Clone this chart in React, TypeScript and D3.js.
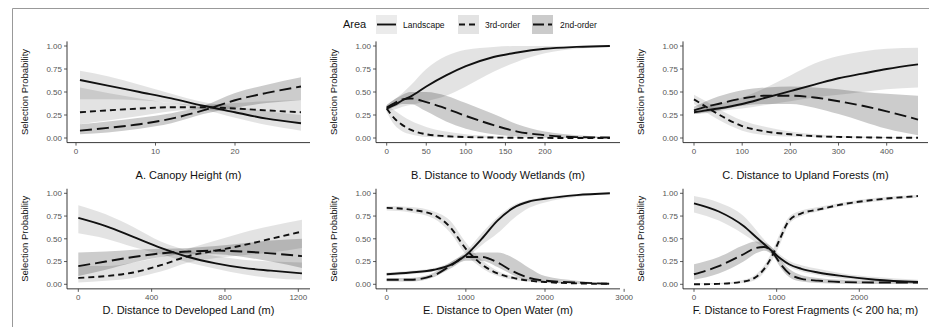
import React from "react";
import * as d3 from "d3";

// ---------- DATA ----------
const seriesNames = ["Landscape", "3rd-order", "2nd-order"];
const yTicks = [0, 0.25, 0.5, 0.75, 1];

// A. Canopy Height
const aX = [0.5, 4, 8, 12, 16, 20, 24, 28.3];
const aLand = [0.63, 0.57, 0.5, 0.43, 0.35, 0.28, 0.21, 0.16];
const aLandLo = [0.42, 0.42, 0.41, 0.38, 0.31, 0.22, 0.14, 0.08];
const aLandHi = [0.73, 0.67, 0.58, 0.48, 0.39, 0.34, 0.29, 0.25];
const a3rd = [0.28, 0.3, 0.32, 0.335, 0.335, 0.32, 0.3, 0.28];
const a3rdLo = [0.15, 0.19, 0.24, 0.29, 0.31, 0.27, 0.21, 0.16];
const a3rdHi = [0.55, 0.49, 0.43, 0.38, 0.36, 0.38, 0.4, 0.41];
const a2nd = [0.08, 0.11, 0.15, 0.21, 0.3, 0.41, 0.49, 0.56];
const a2ndLo = [0.04, 0.06, 0.1, 0.16, 0.26, 0.33, 0.38, 0.41];
const a2ndHi = [0.15, 0.18, 0.22, 0.27, 0.35, 0.49, 0.58, 0.66];
const aTicks = [0, 10, 20];

// B. Distance to Woody Wetlands
const bX = [0, 10, 20, 30, 50, 75, 100, 135, 165, 200, 240, 282];
const bLand = [0.32, 0.36, 0.41, 0.45, 0.56, 0.68, 0.78, 0.88, 0.93, 0.97, 0.99, 1.0];
const bLandLo = [0.29, 0.31, 0.34, 0.36, 0.4, 0.46, 0.56, 0.72, 0.83, 0.92, 0.97, 0.99];
const bLandHi = [0.36, 0.42, 0.49, 0.57, 0.75, 0.89, 0.96, 0.99, 1.0, 1.0, 1.0, 1.0];
const b3rd = [0.32, 0.21, 0.14, 0.09, 0.04, 0.02, 0.01, 0.005, 0.002, 0.001, 0, 0];
const b3rdLo = [0.28, 0.14, 0.07, 0.04, 0.01, 0.005, 0, 0, 0, 0, 0, 0];
const b3rdHi = [0.36, 0.3, 0.24, 0.19, 0.12, 0.07, 0.04, 0.02, 0.01, 0.005, 0.002, 0.001];
const b2nd = [0.33, 0.38, 0.42, 0.43, 0.39, 0.32, 0.24, 0.14, 0.07, 0.03, 0.01, 0.005];
const b2ndLo = [0.3, 0.34, 0.37, 0.37, 0.29, 0.18, 0.1, 0.04, 0.015, 0.005, 0, 0];
const b2ndHi = [0.36, 0.42, 0.47, 0.5, 0.5, 0.46, 0.38, 0.26, 0.15, 0.07, 0.03, 0.01];
const bTicks = [0, 50, 100, 150, 200];

// C. Distance to Upland Forests
const cX = [0, 25, 50, 100, 150, 200, 250, 300, 350, 400, 465];
const cLand = [0.28, 0.3, 0.32, 0.37, 0.44, 0.51, 0.58, 0.65, 0.7, 0.75, 0.8];
const cLandLo = [0.26, 0.27, 0.29, 0.32, 0.36, 0.4, 0.44, 0.47, 0.5, 0.53, 0.55];
const cLandHi = [0.31, 0.34, 0.37, 0.44, 0.55, 0.68, 0.81, 0.89, 0.94, 0.97, 0.98];
const c3rd = [0.42, 0.34, 0.26, 0.13, 0.07, 0.04, 0.02, 0.012, 0.007, 0.004, 0.002];
const c3rdLo = [0.37, 0.28, 0.2, 0.08, 0.03, 0.015, 0.007, 0.003, 0.001, 0, 0];
const c3rdHi = [0.47, 0.4, 0.32, 0.19, 0.12, 0.07, 0.04, 0.025, 0.015, 0.01, 0.006];
const c2nd = [0.3, 0.34, 0.37, 0.43, 0.46, 0.46, 0.44, 0.4, 0.35, 0.29, 0.2];
const c2ndLo = [0.26, 0.28, 0.3, 0.35, 0.37, 0.37, 0.33, 0.26, 0.18, 0.1, 0.03];
const c2ndHi = [0.34, 0.4, 0.45, 0.52, 0.55, 0.56, 0.55, 0.53, 0.5, 0.48, 0.46];
const cTicks = [0, 100, 200, 300, 400];

// D. Distance to Developed Land
const dX = [0, 150, 300, 450, 600, 750, 900, 1050, 1220];
const dLand = [0.73, 0.64, 0.52, 0.4, 0.3, 0.23, 0.18, 0.15, 0.12];
const dLandLo = [0.56, 0.5, 0.41, 0.33, 0.24, 0.17, 0.11, 0.07, 0.05];
const dLandHi = [0.87, 0.77, 0.63, 0.47, 0.37, 0.31, 0.27, 0.25, 0.24];
const d3rd = [0.07, 0.09, 0.13, 0.21, 0.31, 0.37, 0.43, 0.5, 0.58];
const d3rdLo = [0.02, 0.04, 0.07, 0.14, 0.24, 0.29, 0.32, 0.35, 0.4];
const d3rdHi = [0.2, 0.2, 0.24, 0.3, 0.39, 0.48, 0.57, 0.64, 0.71];
const d2nd = [0.2, 0.25, 0.3, 0.34, 0.36, 0.37, 0.36, 0.34, 0.31];
const d2ndLo = [0.09, 0.16, 0.24, 0.3, 0.33, 0.33, 0.3, 0.25, 0.18];
const d2ndHi = [0.35, 0.36, 0.38, 0.39, 0.4, 0.42, 0.45, 0.48, 0.5];
const dTicks = [0, 400, 800, 1200];

// E. Distance to Open Water
const eX = [0, 300, 600, 800, 1000, 1200, 1400, 1600, 1800, 2000, 2400, 2820];
const eLand = [0.11, 0.13, 0.16, 0.21, 0.32, 0.5, 0.7, 0.84, 0.91, 0.94, 0.98, 1.0];
const eLandLo = [0.09, 0.11, 0.14, 0.19, 0.29, 0.43, 0.56, 0.72, 0.84, 0.9, 0.96, 0.99];
const eLandHi = [0.13, 0.15, 0.18, 0.24, 0.36, 0.56, 0.74, 0.87, 0.93, 0.96, 0.99, 1.0];
const e3rd = [0.84, 0.82, 0.76, 0.63, 0.39, 0.22, 0.12, 0.07, 0.04, 0.025, 0.01, 0.005];
const e3rdLo = [0.81, 0.79, 0.72, 0.57, 0.33, 0.18, 0.09, 0.05, 0.025, 0.015, 0.005, 0];
const e3rdHi = [0.86, 0.85, 0.8, 0.7, 0.46, 0.27, 0.15, 0.09, 0.055, 0.035, 0.015, 0.008];
const e2nd = [0.05, 0.05, 0.1, 0.2, 0.3, 0.3, 0.24, 0.14, 0.07, 0.04, 0.02, 0.005];
const e2ndLo = [0.03, 0.03, 0.08, 0.17, 0.26, 0.26, 0.19, 0.1, 0.04, 0.02, 0.01, 0];
const e2ndHi = [0.07, 0.07, 0.13, 0.24, 0.33, 0.35, 0.35, 0.29, 0.18, 0.09, 0.04, 0.01];
const eTicks = [0, 1000, 2000, 3000];

// F. Distance to Forest Fragments
const fX = [0, 300, 600, 750, 850, 950, 1050, 1150, 1300, 1500, 1800, 2200, 2710];
const fLand = [0.89, 0.8, 0.64, 0.52, 0.44, 0.36, 0.28, 0.22, 0.17, 0.13, 0.09, 0.05, 0.025];
const fLandLo = [0.79, 0.7, 0.55, 0.46, 0.4, 0.33, 0.25, 0.19, 0.14, 0.1, 0.06, 0.03, 0.01];
const fLandHi = [0.97, 0.9, 0.75, 0.6, 0.49, 0.4, 0.32, 0.26, 0.21, 0.17, 0.12, 0.08, 0.05];
const f3rd = [0.0, 0.005, 0.03, 0.08, 0.17, 0.32, 0.52, 0.7, 0.78, 0.82, 0.88, 0.93, 0.97];
const f3rdLo = [0, 0, 0.015, 0.05, 0.13, 0.27, 0.46, 0.66, 0.75, 0.8, 0.86, 0.91, 0.95];
const f3rdHi = [0.01, 0.015, 0.05, 0.11, 0.21, 0.37, 0.58, 0.74, 0.81, 0.85, 0.9, 0.95, 0.98];
const f2nd = [0.11, 0.2, 0.33, 0.4, 0.41, 0.35, 0.22, 0.12, 0.06, 0.04, 0.025, 0.02, 0.02];
const f2ndLo = [0.05, 0.12, 0.25, 0.34, 0.37, 0.32, 0.18, 0.08, 0.03, 0.015, 0.005, 0.003, 0.003];
const f2ndHi = [0.22, 0.3, 0.43, 0.47, 0.46, 0.4, 0.27, 0.17, 0.1, 0.07, 0.05, 0.04, 0.04];
const fTicks = [0, 1000, 2000];

// ---------- LAYOUT / STYLE ----------
const W = 929;
const H = 327;
const FONT = "'Liberation Sans', Arial, Helvetica, sans-serif";
const rowsY = [
  { top: 46, bottom: 138, title: 179 },
  { top: 193.3, bottom: 284.3, title: 314 },
];
const cols = [
  { left: 67, right: 310 },
  { left: 376, right: 620 },
  { left: 683, right: 928 },
];
const styles = [
  { dash: null, fill: "#000", op: 0.11 },
  { dash: "6,4", fill: "#000", op: 0.11 },
  { dash: "12,5", fill: "#000", op: 0.2 },
];

const panels = [
  { title: "A. Canopy Height (m)", xs: aX, s: [[aLand, aLandLo, aLandHi], [a3rd, a3rdLo, a3rdHi], [a2nd, a2ndLo, a2ndHi]], ticks: aTicks, ref: 20, px0: 76, pxRef: 235, row: 0, col: 0 },
  { title: "B. Distance to Woody Wetlands (m)", xs: bX, s: [[bLand, bLandLo, bLandHi], [b3rd, b3rdLo, b3rdHi], [b2nd, b2ndLo, b2ndHi]], ticks: bTicks, ref: 200, px0: 386.7, pxRef: 545, row: 0, col: 1 },
  { title: "C. Distance to Upland Forests (m)", xs: cX, s: [[cLand, cLandLo, cLandHi], [c3rd, c3rdLo, c3rdHi], [c2nd, c2ndLo, c2ndHi]], ticks: cTicks, ref: 400, px0: 694, pxRef: 886.7, row: 0, col: 2 },
  { title: "D. Distance to Developed Land (m)", xs: dX, s: [[dLand, dLandLo, dLandHi], [d3rd, d3rdLo, d3rdHi], [d2nd, d2ndLo, d2ndHi]], ticks: dTicks, ref: 1200, px0: 78.3, pxRef: 298.3, row: 1, col: 0 },
  { title: "E. Distance to Open Water (m)", xs: eX, s: [[eLand, eLandLo, eLandHi], [e3rd, e3rdLo, e3rdHi], [e2nd, e2ndLo, e2ndHi]], ticks: eTicks, ref: 2000, px0: 386.7, pxRef: 545, row: 1, col: 1 },
  { title: "F. Distance to Forest Fragments (< 200 ha; m)", xs: fX, s: [[fLand, fLandLo, fLandHi], [f3rd, f3rdLo, f3rdHi], [f2nd, f2ndLo, f2ndHi]], ticks: fTicks, ref: 2000, px0: 694, pxRef: 859.3, row: 1, col: 2 },
];

function Panel({ p }: { p: any }) {
  const r = rowsY[p.row];
  const c = cols[p.col];
  const x = d3.scaleLinear().domain([0, p.ref]).range([p.px0, p.pxRef]);
  const y = d3.scaleLinear().domain([0, 1]).range([r.bottom, r.top]);
  const exp = (r.bottom - r.top) * 0.05;
  const axisY = r.bottom + exp;
  const idx = p.xs.map((_: number, i: number) => i);
  const area = (lo: number[], hi: number[]) =>
    d3.area<number>().x((i) => x(p.xs[i])).y0((i) => y(lo[i])).y1((i) => y(hi[i])).curve(d3.curveMonotoneX)(idx) || "";
  const line = (m: number[]) =>
    d3.line<number>().x((i) => x(p.xs[i])).y((i) => y(m[i])).curve(d3.curveMonotoneX)(idx) || "";
  const cx = (c.left + c.right) / 2;
  return (
    <g>
      {p.s.map((ser: number[][], k: number) => (
        <path key={"r" + k} d={area(ser[1], ser[2])} fill={styles[k].fill} fillOpacity={styles[k].op} stroke="none" />
      ))}
      {p.s.map((ser: number[][], k: number) => (
        <path key={"l" + k} d={line(ser[0])} fill="none" stroke="#111" strokeWidth={1.9}
          strokeDasharray={styles[k].dash || undefined} />
      ))}
      {/* axes */}
      <line x1={c.left} x2={c.left} y1={r.top - exp} y2={axisY} stroke="#222" strokeWidth={0.9} />
      <line x1={c.left} x2={c.right} y1={axisY} y2={axisY} stroke="#222" strokeWidth={0.9} />
      {yTicks.map((t) => (
        <g key={"yt" + t}>
          <line x1={c.left - 3} x2={c.left} y1={y(t)} y2={y(t)} stroke="#333" strokeWidth={0.8} />
          <text x={c.left - 5} y={y(t)} dy="0.35em" textAnchor="end" fontSize={8} fill="#555" fontFamily={FONT}>
            {t.toFixed(2)}
          </text>
        </g>
      ))}
      {p.ticks.map((t: number) => (
        <g key={"xt" + t}>
          <line x1={x(t)} x2={x(t)} y1={axisY} y2={axisY + 3} stroke="#333" strokeWidth={0.8} />
          <text x={x(t)} y={axisY + 11} textAnchor="middle" fontSize={8} fill="#555" fontFamily={FONT}>
            {t}
          </text>
        </g>
      ))}
      <text transform={`translate(${c.left - 39},${(r.top + r.bottom) / 2}) rotate(-90)`} textAnchor="middle"
        fontSize={9.5} fill="#111" fontFamily={FONT}>
        Selection Probability
      </text>
      <text x={cx} y={r.title} textAnchor="middle" fontSize={11} fill="#111" fontFamily={FONT}>
        {p.title}
      </text>
    </g>
  );
}

const legendKeys = [
  { kx: 376, tx: 403 },
  { kx: 458, tx: 485 },
  { kx: 532, tx: 560 },
];
const keyFills = ["#ebebeb", "#e3e3e3", "#cbcbcb"];

export default function App() {
  return (
    <svg width={W} height={H} style={{ position: "absolute", left: 0, top: 0, background: "#fff" }}>
      <rect x={0} y={0} width={W} height={H} fill="#fff" />
      <line x1={12.5} x2={W} y1={8.5} y2={8.5} stroke="#999" strokeWidth={1} />
      <line x1={12.5} x2={12.5} y1={8.5} y2={H} stroke="#999" strokeWidth={1} />
      {/* legend */}
      <text x={343} y={28} fontSize={11} fill="#111" fontFamily={FONT}>Area</text>
      {seriesNames.map((n, k) => (
        <g key={n}>
          <rect x={legendKeys[k].kx} y={15} width={21} height={19} fill={keyFills[k]} />
          <line x1={legendKeys[k].kx + 1} x2={legendKeys[k].kx + 20} y1={24.5} y2={24.5} stroke="#111" strokeWidth={1.9}
            strokeDasharray={styles[k].dash ? (k === 1 ? "6,4" : "11,4") : undefined} />
          <text x={legendKeys[k].tx} y={27.5} fontSize={8.5} fill="#111" fontFamily={FONT}>{n}</text>
        </g>
      ))}
      {panels.map((p) => (
        <Panel key={p.title} p={p} />
      ))}
    </svg>
  );
}
